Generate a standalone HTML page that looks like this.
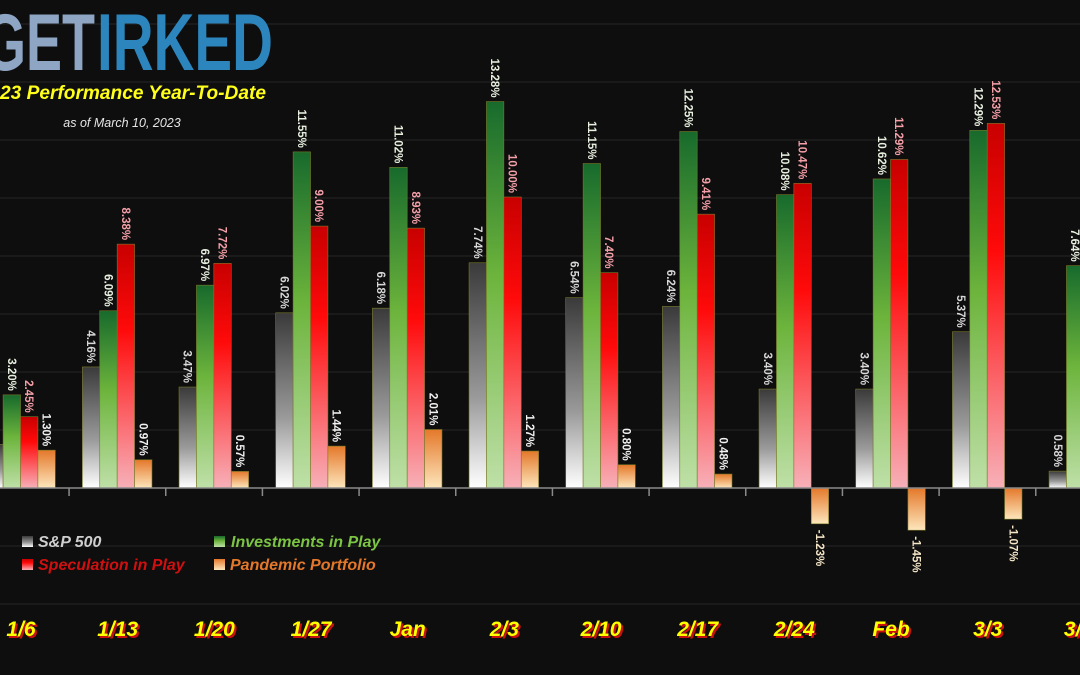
<!DOCTYPE html>
<html><head><meta charset="utf-8"><style>
html,body{margin:0;padding:0;background:#0e0e0e;}
svg{display:block;}
</style></head><body>
<svg width="1080" height="675" viewBox="0 0 1080 675" xmlns="http://www.w3.org/2000/svg" font-family="Liberation Sans, sans-serif">
<defs>
<linearGradient id="gs" x1="0" y1="0" x2="0" y2="1"><stop offset="0" stop-color="#3a3a3a"/><stop offset="0.6" stop-color="#9a9a9a"/><stop offset="1" stop-color="#ffffff"/></linearGradient>
<linearGradient id="gg" x1="0" y1="0" x2="0" y2="1"><stop offset="0" stop-color="#176a2c"/><stop offset="0.45" stop-color="#6cb43c"/><stop offset="1" stop-color="#bfe0a8"/></linearGradient>
<linearGradient id="gr" x1="0" y1="0" x2="0" y2="1"><stop offset="0" stop-color="#c80000"/><stop offset="0.35" stop-color="#ff0a0a"/><stop offset="1" stop-color="#f7b0b8"/></linearGradient>
<linearGradient id="go" x1="0" y1="0" x2="0" y2="1"><stop offset="0" stop-color="#e4782a"/><stop offset="1" stop-color="#fde6bc"/></linearGradient>
</defs>
<rect width="1080" height="675" fill="#0e0e0e"/>
<g stroke="#262626" stroke-width="1">
<line x1="0" y1="24" x2="1080" y2="24"/><line x1="0" y1="82" x2="1080" y2="82"/><line x1="0" y1="140" x2="1080" y2="140"/><line x1="0" y1="198" x2="1080" y2="198"/><line x1="0" y1="256" x2="1080" y2="256"/><line x1="0" y1="314" x2="1080" y2="314"/><line x1="0" y1="372" x2="1080" y2="372"/><line x1="0" y1="430" x2="1080" y2="430"/><line x1="0" y1="546" x2="1080" y2="546"/><line x1="0" y1="604" x2="1080" y2="604"/>
</g>
<g id="bars"></g>
<line x1="0" y1="488" x2="1080" y2="488" stroke="#8a8a8a" stroke-width="1.5"/>
<g id="ticks" stroke="#8a8a8a" stroke-width="1.5"></g>
<g id="labels" font-size="11.5" font-weight="bold"></g>
<!-- logo -->
<g transform="translate(0,70) scale(1,1.3)">
<text x="-16" y="0" font-size="62" font-weight="bold" fill="#8ea6c4" textLength="111" lengthAdjust="spacingAndGlyphs">GET</text>
<text x="97" y="0" font-size="62" font-weight="bold" fill="#2c86bd" textLength="176" lengthAdjust="spacingAndGlyphs">IRKED</text>
</g>
<text x="0" y="99" font-size="19" font-weight="bold" font-style="italic" fill="#ffff1a" textLength="266" lengthAdjust="spacingAndGlyphs">23 Performance Year-To-Date</text>
<text x="122" y="127" font-size="12.5" font-style="italic" fill="#e6e6e6" text-anchor="middle">as of March 10, 2023</text>
<!-- legend -->
<g font-size="16" font-weight="bold" font-style="italic">
<rect x="22" y="536" width="11" height="11" fill="url(#gs)"/><text x="38" y="547" fill="#cfcfcf">S&amp;P 500</text>
<rect x="214" y="536" width="11" height="11" fill="url(#gg)"/><text x="231" y="547" fill="#7cc443">Investments in Play</text>
<rect x="22" y="559" width="11" height="11" fill="url(#gr)"/><text x="38" y="570" fill="#d01010">Speculation in Play</text>
<rect x="214" y="559" width="11" height="11" fill="url(#go)"/><text x="230" y="570" fill="#e4782a">Pandemic Portfolio</text>
</g>
<g id="xl" font-size="21" font-weight="bold" font-style="italic" text-anchor="middle"></g>
<script>
const d=[["1/6",1.5,3.20,2.45,1.30,false],["1/13",4.16,6.09,8.38,0.97],["1/20",3.47,6.97,7.72,0.57],["1/27",6.02,11.55,9.00,1.44],["Jan",6.18,11.02,8.93,2.01],["2/3",7.74,13.28,10.00,1.27],["2/10",6.54,11.15,7.40,0.80],["2/17",6.24,12.25,9.41,0.48],["2/24",3.40,10.08,10.47,-1.23],["Feb",3.40,10.62,11.29,-1.45],["3/3",5.37,12.29,12.53,-1.07],["3/10",0.58,7.64,null,null]];
const Z=488,S=29.1,W=17.4,NS="http://www.w3.org/2000/svg";
const fills=["url(#gs)","url(#gg)","url(#gr)","url(#go)"];
const lc=["#d8d8d8","#e8f0e0","#f5a0a8","#f2f2f2"];
const B=document.getElementById("bars"),L=document.getElementById("labels"),T=document.getElementById("ticks"),X=document.getElementById("xl");
function el(t,a,p){const e=document.createElementNS(NS,t);for(const k in a)e.setAttribute(k,a[k]);p.appendChild(e);return e;}
d.forEach((g,i)=>{
 const s=-14.3+96.67*i;
 for(let j=0;j<4;j++){const v=g[j+1];if(v==null)continue;
  const x=s+j*W,h=Math.abs(v)*S,y=v>=0?Z-h:Z;
  el("rect",{x:x,y:y,width:W,height:h,fill:fills[j],stroke:"#7a7a2a","stroke-width":0.6},B);
  if(i==0&&j==0)continue;
  const cx=x+W/2,lbl=v.toFixed(2)+"%";
  let t;
  if(v>=0) t=el("text",{transform:`translate(${cx-4},${y-4}) rotate(90)`,"text-anchor":"end",fill:lc[j]},L);
  else t=el("text",{transform:`translate(${cx-4},${Z+h+6}) rotate(90)`,"text-anchor":"start",fill:"#f5e6c8"},L);
  t.textContent=lbl;
 }
 const tx=-27.6+96.67*(i+1);
 el("line",{x1:tx,y1:488,x2:tx,y2:496},T);
 const cx=21+96.67*i;
 const sh=el("text",{x:cx+2,y:638,fill:"#c81010"},X);sh.textContent=g[0];
 const tt=el("text",{x:cx,y:636,fill:"#ffff00"},X);tt.textContent=g[0];
});
</script>
</svg>
</body></html>
